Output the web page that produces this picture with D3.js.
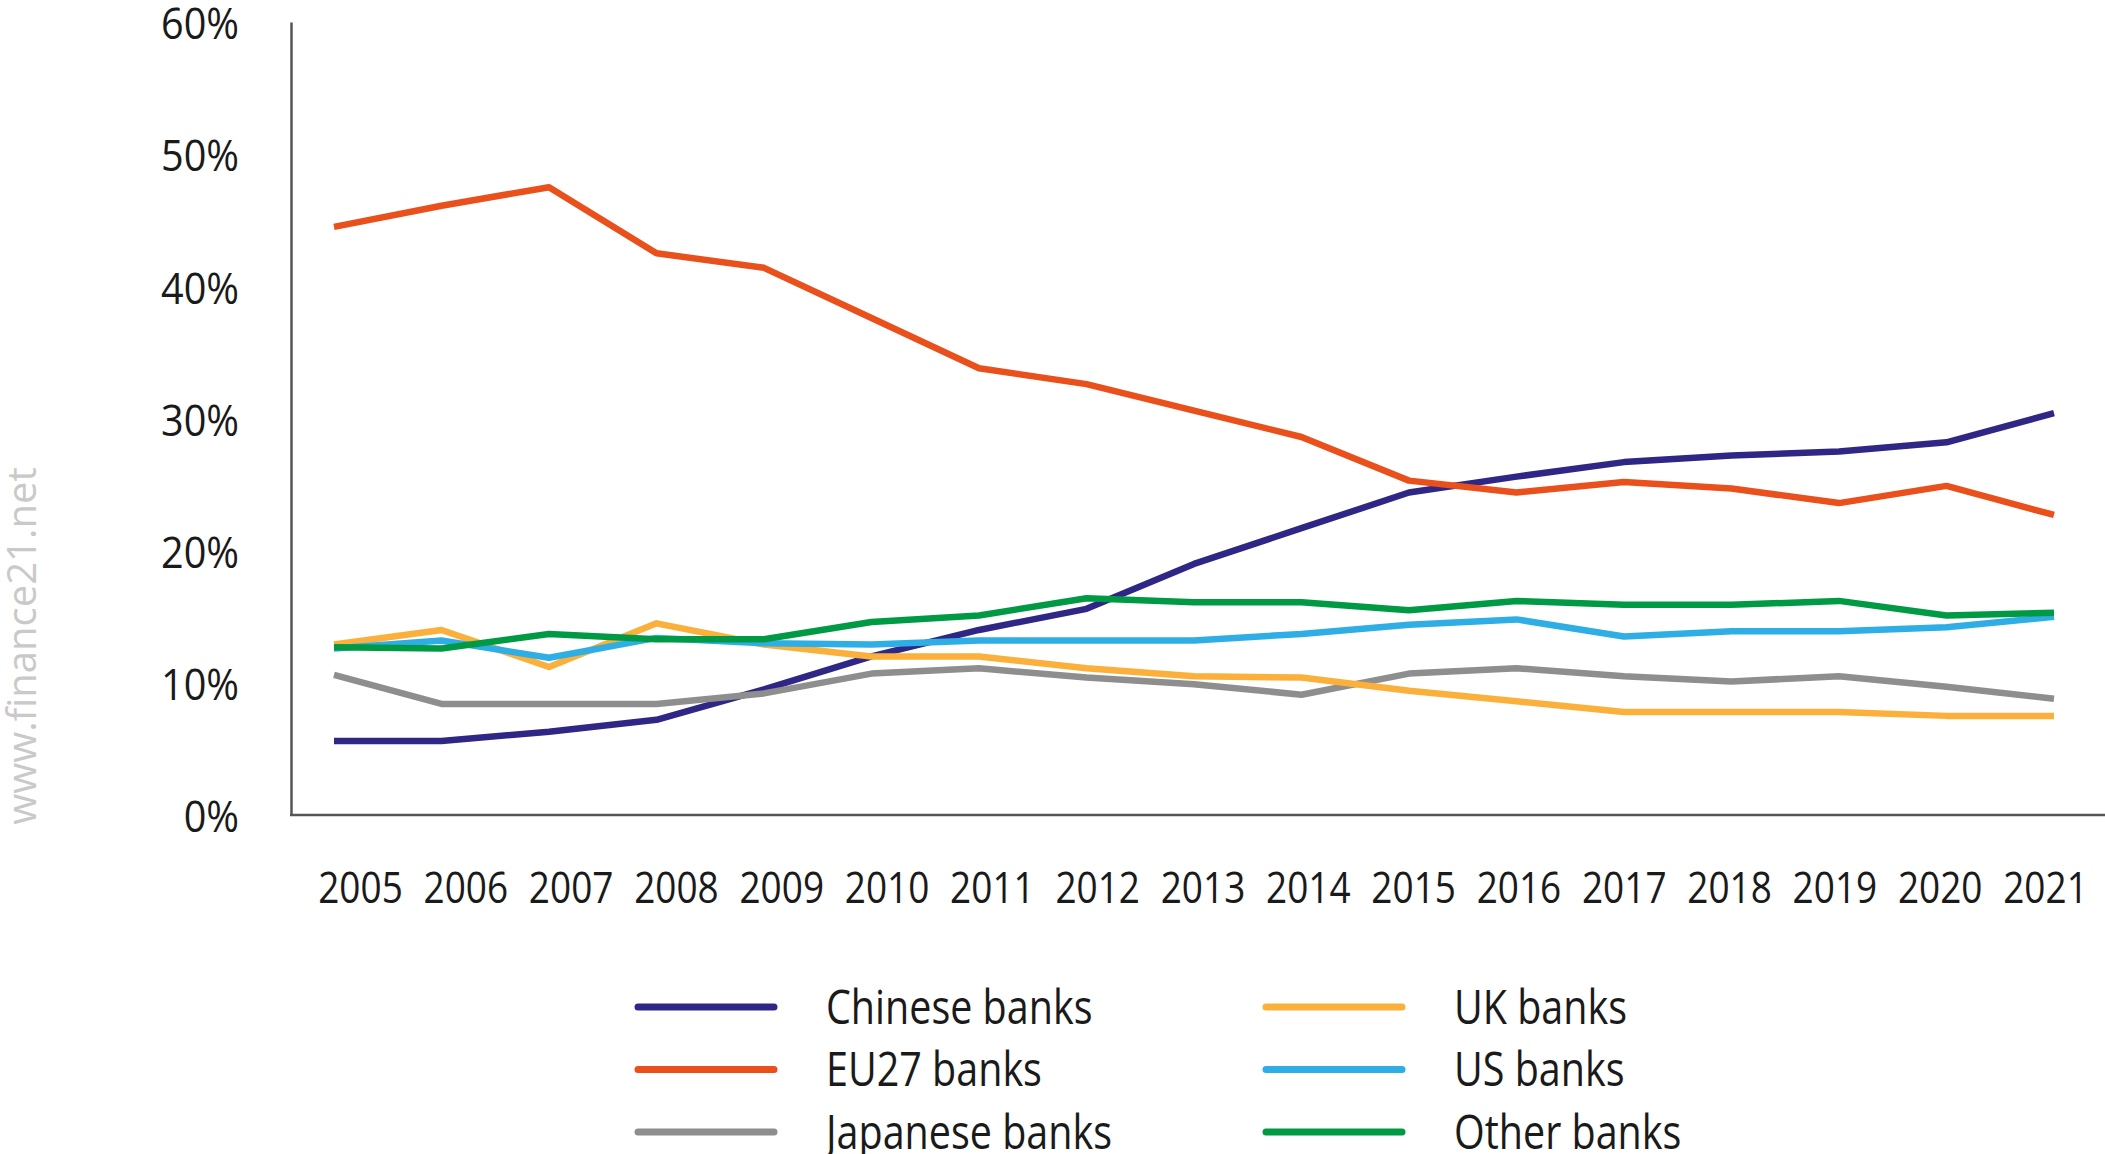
<!DOCTYPE html>
<html>
<head>
<meta charset="utf-8">
<script src="https://cdn.jsdelivr.net/npm/d3@7"></script>
<style>
  html, body { margin: 0; padding: 0; background: #fff; }
  svg { display: block; }
  text { font-family: "Open Sans", "Noto Sans", sans-serif; fill: #1a1a1a; }
</style>
</head>
<body>
<svg id="chart" width="2105" height="1154"></svg>
<script>
// Years on the horizontal axis
const years = ["2005","2006","2007","2008","2009","2010","2011","2012","2013","2014","2015","2016","2017","2018","2019","2020","2021"];

// Share of assets by bank group (%)
const chinese  = [5.6, 5.6, 6.3, 7.2, 9.5, 12.0, 14.0, 15.6, 19.0, 21.7, 24.4, 25.6, 26.7, 27.2, 27.5, 28.2, 30.4];
const eu27     = [44.5, 46.1, 47.5, 42.5, 41.4, 37.6, 33.8, 32.6, 30.6, 28.6, 25.3, 24.4, 25.2, 24.7, 23.6, 24.9, 22.7];
const japanese = [10.6, 8.4, 8.4, 8.4, 9.2, 10.7, 11.1, 10.4, 9.9, 9.1, 10.7, 11.1, 10.5, 10.1, 10.5, 9.7, 8.8];
const uk       = [12.9, 14.0, 11.2, 14.5, 12.9, 12.0, 12.0, 11.1, 10.5, 10.4, 9.4, 8.6, 7.8, 7.8, 7.8, 7.5, 7.5];
const us       = [12.6, 13.2, 11.9, 13.4, 13.0, 12.9, 13.2, 13.2, 13.2, 13.7, 14.4, 14.8, 13.5, 13.9, 13.9, 14.2, 15.0];
const other    = [12.7, 12.6, 13.7, 13.3, 13.3, 14.6, 15.1, 16.4, 16.1, 16.1, 15.5, 16.2, 15.9, 15.9, 16.2, 15.1, 15.3];

// Vertical axis ticks (%)
const yTicks = [0, 10, 20, 30, 40, 50, 60];

const seriesNames = ["Chinese banks", "EU27 banks", "Japanese banks", "UK banks", "US banks", "Other banks"];
const seriesValues = [chinese, eu27, japanese, uk, us, other];
const seriesColors = ["#2e2785", "#e9501c", "#8e8e8e", "#fbb03b", "#2eaee4", "#009a44"];

const svg = d3.select("#chart");
const axisColor = "#555";
const squeeze = 0.84; // narrow letterforms

const y = d3.scaleLinear().domain([0, 60]).range([815, 22]);
const xData = d3.scalePoint().domain(years).range([334, 2054]);
const xLabel = d3.scalePoint().domain(years).range([360, 2045]);

// Watermark
svg.append("text")
  .attr("transform", "translate(36,646) rotate(-90)")
  .attr("text-anchor", "middle")
  .style("font-size", "40px")
  .style("fill", "#c9c9c9")
  .text("www.finance21.net");

// Y axis
const yAxis = svg.append("g")
  .attr("transform", "translate(291,0)")
  .call(d3.axisLeft(y).tickValues(yTicks).tickSize(0).tickPadding(52).tickFormat(d => d + "%"));
yAxis.select(".domain").attr("stroke", axisColor).attr("stroke-width", 2.5);
yAxis.selectAll(".tick text")
  .attr("transform", "scale(0.9,1)")
  .attr("x", -52 / 0.9)
  .attr("dy", "0.38em")
  .style("font-size", "44px")
  .style("fill", "#1a1a1a")
  .style("font-family", "'Open Sans', sans-serif");

// X baseline
svg.append("line")
  .attr("x1", 290).attr("x2", 2105)
  .attr("y1", y(0)).attr("y2", y(0))
  .attr("stroke", axisColor).attr("stroke-width", 2.5);

// X axis labels
const xAxis = svg.append("g")
  .attr("transform", `translate(0,${y(0)})`)
  .call(d3.axisBottom(xLabel).tickSize(0).tickPadding(57));
xAxis.select(".domain").remove();
xAxis.selectAll(".tick text")
  .attr("transform", `scale(${squeeze},1)`)
  .style("font-size", "44px")
  .style("fill", "#1a1a1a")
  .style("font-family", "'Open Sans', sans-serif");

// Lines
const line = d3.line()
  .x((d, i) => xData(years[i]))
  .y(d => y(d));

svg.append("g").selectAll("path")
  .data(seriesValues)
  .join("path")
  .attr("d", line)
  .attr("fill", "none")
  .attr("stroke", (d, i) => seriesColors[i])
  .attr("stroke-width", 6.5)
  .attr("stroke-linejoin", "round");

// Legend: two columns of three
const legendCols = [636, 1264];
const legendRows = d3.scalePoint().domain([0, 1, 2]).range([1007, 1132]);
const legend = svg.append("g").selectAll("g")
  .data(seriesNames)
  .join("g")
  .attr("transform", (d, i) => `translate(${legendCols[Math.floor(i / 3)]},${legendRows(i % 3)})`);
legend.append("line")
  .attr("x1", 2).attr("x2", 138)
  .attr("stroke", (d, i) => seriesColors[i])
  .attr("stroke-width", 7)
  .attr("stroke-linecap", "round");
legend.append("text")
  .attr("transform", `translate(190,0) scale(${squeeze},1)`)
  .attr("dy", "0.36em")
  .style("font-size", "47px")
  .text(d => d);
</script>
</body>
</html>
